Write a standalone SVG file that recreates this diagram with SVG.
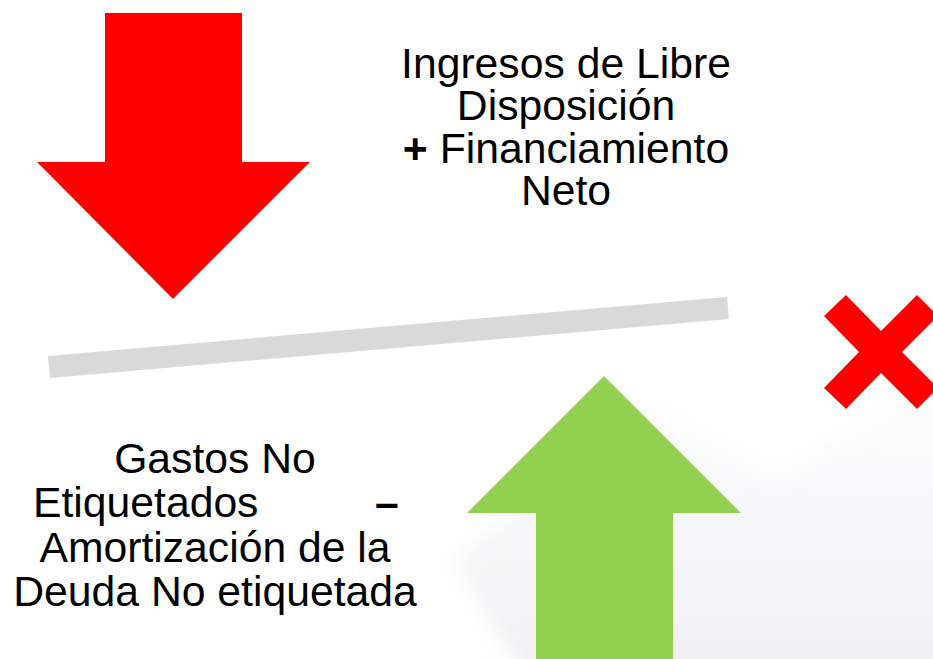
<svg xmlns="http://www.w3.org/2000/svg" width="933" height="659" viewBox="0 0 933 659">
<defs>
<linearGradient id="bgGrad" x1="0" y1="0" x2="0" y2="1">
<stop offset="0" stop-color="#fdfdfe"/>
<stop offset="0.4" stop-color="#f7f8f9"/>
<stop offset="1" stop-color="#eeeff1"/>
</linearGradient>
<filter id="soft" x="-20%" y="-20%" width="140%" height="140%">
<feGaussianBlur stdDeviation="10"/>
</filter>
<style>
.lbl{font-family:"Liberation Sans",Arial,sans-serif;font-size:42.7px;fill:#000;}
.op{font-weight:bold;}
</style>
</defs>
<rect x="0" y="0" width="933" height="659" fill="#ffffff"/>
<polygon points="454,561 650,405 775,478 933,380 960,380 960,700 540,700" fill="url(#bgGrad)" filter="url(#soft)"/>
<g id="connectors"/>
<g id="red-arrow">
<polygon points="105,13 242,13 242,162 310,162 173,299 37,162 105,162" fill="#ff0000"/>
</g>
<g id="balance-bar">
<polygon points="48,356 727,297 729,319 50,378" fill="#d9d9d9"/>
</g>
<g id="green-arrow">
<polygon points="604,376 741,513 673,513 673,659 536,659 536,513 467,513" fill="#92d050"/>
</g>
<g id="red-x">
<polygon points="846,295 881,331 917,295 938,316 902,352 938,388 917,409 881,373 846,409 824,388 859,352 824,316" fill="#ff0000"/>
</g>
<g id="income-label">
<text class="lbl" text-anchor="middle"><tspan x="566" y="78">Ingresos de Libre</tspan><tspan x="566" y="120">Disposición</tspan><tspan x="566" y="163"><tspan class="op">+</tspan> Financiamiento</tspan><tspan x="566" y="205">Neto</tspan></text>
</g>
<g id="expense-label">
<text class="lbl" text-anchor="middle"><tspan x="215" y="473">Gastos No</tspan><tspan x="215" y="562">Amortización de la</tspan><tspan x="215" y="606">Deuda No etiquetada</tspan></text>
<text class="lbl" x="33" y="517">Etiquetados</text>
<text class="lbl op" x="375" y="517">–</text>
</g>
</svg>
